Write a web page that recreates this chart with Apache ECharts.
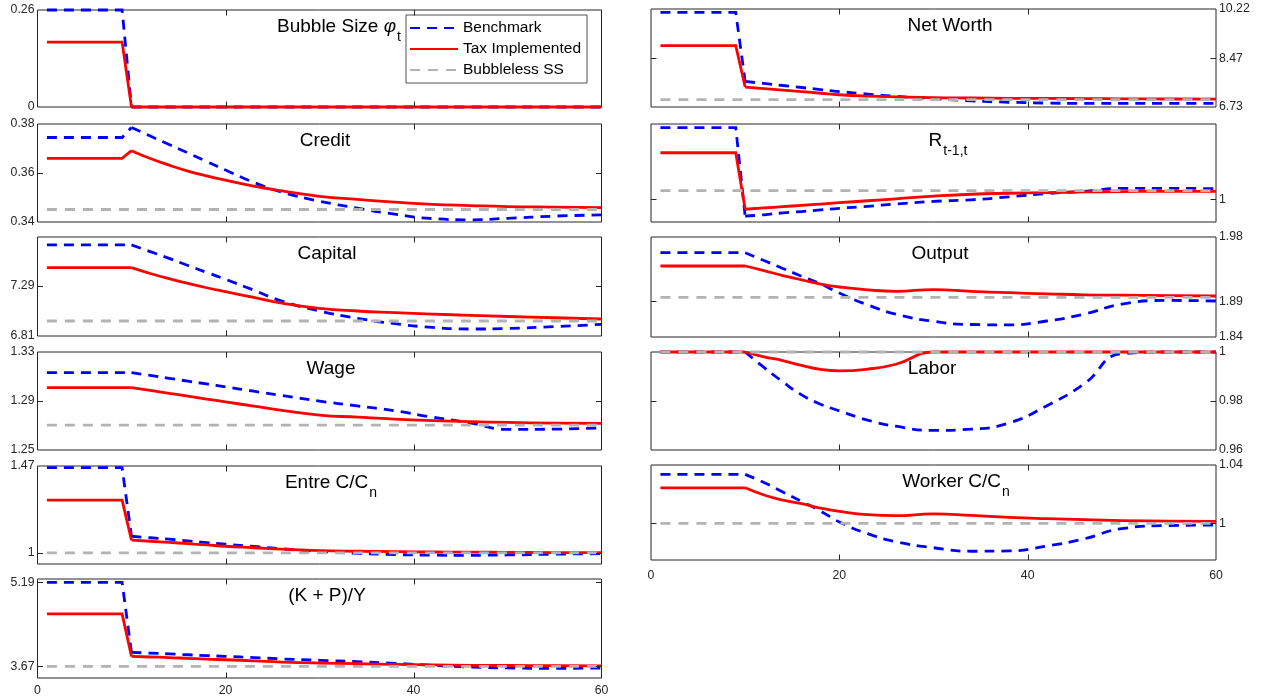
<!DOCTYPE html>
<html>
<head>
<meta charset="utf-8">
<script src="https://cdn.jsdelivr.net/npm/echarts@6/dist/echarts.min.js"></script>
<style>
  html, body { margin: 0; padding: 0; background: #fff; }
  #chart { width: 1261px; height: 698px; }
</style>
</head>
<body>
<div id="chart"></div>
<script>
// Simulation periods at which the impulse paths are recorded
const periods = [1, 9, 10, 12, 14, 16, 18, 20, 23, 26, 30, 34, 38, 42, 46, 50, 55, 60];
// Period at which the shock hits (paths are straight up to here, curved afterwards)
const shockPeriod = 10;

// Bubble size phi_t
const bubbleBench = [0.26, 0.26, 0, 0, 0, 0, 0, 0, 0, 0, 0, 0, 0, 0, 0, 0, 0, 0];
const bubbleTax   = [0.174, 0.174, 0, 0, 0, 0, 0, 0, 0, 0, 0, 0, 0, 0, 0, 0, 0, 0];

// Credit
const creditBench = [0.3745, 0.3745, 0.3786, 0.3751, 0.3716, 0.3682, 0.3647, 0.3612, 0.3562, 0.3522, 0.3485, 0.3457, 0.3432, 0.3414, 0.3409, 0.3415, 0.3424, 0.3429];
const creditTax   = [0.3660, 0.3660, 0.3691, 0.3659, 0.3632, 0.3608, 0.3588, 0.3571, 0.3546, 0.3527, 0.3505, 0.3492, 0.3481, 0.3472, 0.3467, 0.3463, 0.3461, 0.3459];

// Capital
const capitalBench = [7.684, 7.684, 7.684, 7.62, 7.555, 7.487, 7.42, 7.354, 7.25, 7.145, 7.05, 6.98, 6.928, 6.893, 6.877, 6.882, 6.9, 6.922];
const capitalTax   = [7.466, 7.466, 7.466, 7.41, 7.36, 7.315, 7.273, 7.235, 7.18, 7.125, 7.076, 7.05, 7.034, 7.02, 7.008, 6.997, 6.985, 6.973];

// Wage
const wageBench = [1.3132, 1.3132, 1.3132, 1.3109, 1.3085, 1.3062, 1.3039, 1.3015, 1.298, 1.2945, 1.2899, 1.286, 1.282, 1.2768, 1.2722, 1.2668, 1.267, 1.2681];
const wageTax   = [1.301, 1.301, 1.301, 1.2986, 1.2963, 1.294, 1.2916, 1.2893, 1.2858, 1.2823, 1.2785, 1.2768, 1.2752, 1.274, 1.2731, 1.2725, 1.272, 1.2717];

// Entrepreneur consumption relative to no-bubble level
const entreBench = [1.461, 1.461, 1.09, 1.082, 1.074, 1.065, 1.056, 1.047, 1.035, 1.022, 1.008, 0.998, 0.991, 0.988, 0.987, 0.989, 0.993, 0.996];
const entreTax   = [1.285, 1.285, 1.0686, 1.063, 1.057, 1.05, 1.043, 1.036, 1.028, 1.02, 1.012, 1.009, 1.007, 1.005, 1.004, 1.003, 1.002, 1.002];

// (K + P)/Y
const kpyBench = [5.19, 5.19, 3.923, 3.91, 3.895, 3.88, 3.865, 3.851, 3.83, 3.805, 3.78, 3.755, 3.725, 3.69, 3.66, 3.642, 3.635, 3.64];
const kpyTax   = [4.618, 4.618, 3.851, 3.84, 3.83, 3.815, 3.80, 3.79, 3.77, 3.748, 3.73, 3.72, 3.705, 3.698, 3.69, 3.686, 3.683, 3.68];

// Net worth
const netBench = [10.10, 10.10, 7.64, 7.568, 7.496, 7.424, 7.352, 7.28, 7.19, 7.11, 7.03, 6.95, 6.90, 6.87, 6.86, 6.86, 6.86, 6.86];
const netTax   = [8.917, 8.917, 7.44, 7.385, 7.33, 7.276, 7.22, 7.167, 7.12, 7.09, 7.06, 7.05, 7.04, 7.035, 7.03, 7.02, 7.015, 7.01];

// Gross return R_{t-1,t}
const rBench = [1.0219, 1.0219, 0.9948, 0.9952, 0.9958, 0.9962, 0.9967, 0.9972, 0.9978, 0.9985, 0.9993, 0.9998, 1.0007, 1.0017, 1.0024, 1.0033, 1.0033, 1.0032];
const rTax   = [1.0142, 1.0142, 0.9969, 0.9973, 0.9977, 0.9981, 0.9985, 0.9989, 0.9995, 1.0001, 1.0009, 1.0015, 1.0018, 1.002, 1.0022, 1.0023, 1.0024, 1.0024];

// Output
const outputBench = [1.958, 1.958, 1.958, 1.947, 1.936, 1.925, 1.9145, 1.9015, 1.885, 1.872, 1.862, 1.8575, 1.857, 1.8624, 1.872, 1.886, 1.8912, 1.8904];
const outputTax   = [1.9394, 1.9394, 1.9394, 1.933, 1.926, 1.92, 1.914, 1.91, 1.906, 1.904, 1.9064, 1.904, 1.902, 1.9005, 1.899, 1.8985, 1.898, 1.8974];

// Labor
const laborBench = [1, 1, 1, 0.9937, 0.9878, 0.9825, 0.9787, 0.976, 0.9722, 0.9697, 0.968, 0.9685, 0.971, 0.978, 0.987, 0.9993, 1, 1];
const laborTax   = [1, 1, 1, 0.998, 0.9965, 0.9945, 0.9929, 0.9923, 0.993, 0.995, 1, 1, 1, 1, 1, 1, 1, 1];

// Worker consumption relative to no-bubble level
const workerBench = [1.0336, 1.0336, 1.0336, 1.028, 1.0215, 1.015, 1.0085, 1.001, 0.993, 0.9875, 0.9834, 0.981, 0.9812, 0.9845, 0.9895, 0.9965, 0.9986, 0.9989];
const workerTax   = [1.0244, 1.0244, 1.0244, 1.0195, 1.016, 1.0135, 1.0105, 1.0083, 1.006, 1.0053, 1.0065, 1.0055, 1.0042, 1.0033, 1.0026, 1.002, 1.0016, 1.0014];

// Bubbleless steady-state levels (null: not drawn)
const bubblelessSS = {
  bubble: null, credit: 0.3451, capital: 6.954, wage: 1.2703, entre: 1, kpy: 3.67,
  net: 6.99, r: 1.0026, output: 1.8955, labor: 1, worker: 1
};

// Vertical axis limits and tick values
const yLimits = {
  bubble: [0, 0.26], credit: [0.34, 0.38], capital: [6.81, 7.76], wage: [1.25, 1.33],
  entre: [0.94, 1.47], kpy: [3.46, 5.25], net: [6.73, 10.22], r: [0.993, 1.023],
  output: [1.84, 1.98], labor: [0.96, 1], worker: [0.975, 1.04]
};
const yTicks = {
  bubble: [0, 0.26], credit: [0.34, 0.36, 0.38], capital: [6.81, 7.29], wage: [1.25, 1.29, 1.33],
  entre: [1, 1.47], kpy: [3.67, 5.19], net: [6.73, 8.47, 10.22], r: [1],
  output: [1.84, 1.89, 1.98], labor: [0.96, 0.98, 1], worker: [1, 1.04]
};
const xTicks = [0, 20, 40, 60];

const seriesNames = ['Benchmark', 'Tax Implemented', 'Bubbleless SS'];

// Panel titles (rich text: m = main, g = greek, s = subscript)
const panelTitles = {
  bubble: '{m|Bubble Size }{g|φ}{s|t}', credit: '{m|Credit}', capital: '{m|Capital}',
  wage: '{m|Wage}', entre: '{m|Entre C/C}{s|n}', kpy: '{m|(K + P)/Y}',
  net: '{m|Net Worth}', r: '{m|R}{s|t-1,t}', output: '{m|Output}',
  labor: '{m|Labor}', worker: '{m|Worker C/C}{s|n}'
};

const seriesData = {
  bubble: [bubbleBench, bubbleTax], credit: [creditBench, creditTax], capital: [capitalBench, capitalTax],
  wage: [wageBench, wageTax], entre: [entreBench, entreTax], kpy: [kpyBench, kpyTax],
  net: [netBench, netTax], r: [rBench, rTax], output: [outputBench, outputTax],
  labor: [laborBench, laborTax], worker: [workerBench, workerTax]
};

// ---- layout (pixels) ----
const FONT = '"Liberation Sans", Arial, Helvetica, sans-serif';
const AX = '#262626';
const TICK_LEN = 5.5;
const columns = [{ x: 37.5, w: 564 }, { x: 651, w: 565 }];
const panelLayout = [
  { key: 'bubble',  col: 0, top: 10,  bottom: 107, tx: 339 },
  { key: 'credit',  col: 0, top: 124, bottom: 222, tx: 325 },
  { key: 'capital', col: 0, top: 237, bottom: 336, tx: 327 },
  { key: 'wage',    col: 0, top: 352, bottom: 450, tx: 331 },
  { key: 'entre',   col: 0, top: 466, bottom: 564, tx: 331 },
  { key: 'kpy',     col: 0, top: 579, bottom: 678, tx: 327, xLabels: true, xMargin: 7 },
  { key: 'net',     col: 1, top: 9,   bottom: 107, tx: 950 },
  { key: 'r',       col: 1, top: 124, bottom: 222, tx: 948 },
  { key: 'output',  col: 1, top: 237, bottom: 337, tx: 940 },
  { key: 'labor',   col: 1, top: 352, bottom: 450, tx: 932 },
  { key: 'worker',  col: 1, top: 465, bottom: 560, tx: 956, xLabels: true, xMargin: 10 }
];

const lineStyles = [
  { color: '#0000ff', width: 2.8, type: [10, 7] },
  { color: '#ff0000', width: 2.8, type: 'solid' },
  { color: '#b3b3b3', width: 2.8, type: [10, 8] }
];

const fmt = v => String(parseFloat(Number(v).toFixed(2)));

const grid = [], xAxis = [], yAxis = [], series = [], titles = [];
const shockIdx = periods.indexOf(shockPeriod);

const lineSeries = (s, i, data, smooth, z) => ({
  name: seriesNames[s], type: 'line',
  xAxisIndex: i, yAxisIndex: i,
  data, symbol: 'none', clip: false, z, smooth,
  lineStyle: Object.assign({ cap: 'butt', join: 'miter' }, lineStyles[s]),
  itemStyle: { color: lineStyles[s].color },
  emphasis: { disabled: true }, silent: true
});

panelLayout.forEach((p, i) => {
  const c = columns[p.col];
  grid.push({
    left: c.x, top: p.top, width: c.w, height: p.bottom - p.top,
    show: true, borderColor: AX, borderWidth: 1, backgroundColor: 'transparent'
  });
  xAxis.push({
    gridIndex: i, type: 'value', position: 'bottom',
    min: xTicks[0], max: xTicks[xTicks.length - 1],
    axisLine: { show: false }, splitLine: { show: false }, axisTick: { show: false },
    axisLabel: {
      show: !!p.xLabels, customValues: xTicks, margin: p.xMargin || 6,
      fontSize: 12.3, fontFamily: FONT, color: AX
    }
  });
  const lim = yLimits[p.key];
  yAxis.push({
    gridIndex: i, type: 'value', position: p.col === 0 ? 'left' : 'right',
    min: lim[0], max: lim[1],
    axisLine: { show: false }, splitLine: { show: false }, axisTick: { show: false },
    axisLabel: {
      customValues: yTicks[p.key], formatter: fmt, margin: 3,
      fontSize: 12.3, fontFamily: FONT, color: AX
    }
  });

  // benchmark and tax paths: straight pre-shock part, smoothed adjustment afterwards
  seriesData[p.key].forEach((values, s) => {
    const pts = periods.map((t, j) => [t, values[j]]);
    series.push(lineSeries(s, i, pts.slice(0, shockIdx + 1), false, 2 + s));
    series.push(lineSeries(s, i, pts.slice(shockIdx), 0.5, 2 + s));
  });
  const ss = bubblelessSS[p.key];
  if (ss !== null) {
    series.push(lineSeries(2, i, [[periods[0], ss], [periods[periods.length - 1], ss]], false, 4));
  }

  titles.push({
    type: 'text', x: p.tx, y: p.top + 7, z: 100,
    style: {
      text: panelTitles[p.key], align: 'center', verticalAlign: 'top', fill: '#000',
      rich: {
        m: { fontSize: 19, fontFamily: FONT, lineHeight: 22, verticalAlign: 'top', fill: '#000' },
        g: { fontSize: 19, fontFamily: FONT, fontStyle: 'italic', lineHeight: 22, verticalAlign: 'top', fill: '#000' },
        s: { fontSize: 14, fontFamily: FONT, lineHeight: 16, padding: [13, 0, 0, 1], verticalAlign: 'top', fill: '#000' }
      }
    }
  });
});

const chart = echarts.init(document.getElementById('chart'), null, { renderer: 'canvas' });
chart.setOption({
  backgroundColor: '#fff',
  animation: false,
  grid, xAxis, yAxis, series,
  graphic: { elements: titles },
  legend: {
    data: seriesNames, orient: 'vertical', left: 406, top: 15,
    padding: [4, 6, 4, 3], itemGap: 3, itemWidth: 48, itemHeight: 16,
    backgroundColor: '#fff', borderColor: AX, borderWidth: 0.8, borderRadius: 0,
    selectedMode: false,
    itemStyle: { opacity: 0 },
    textStyle: { fontSize: 15.5, fontFamily: FONT, color: '#000', lineHeight: 18 }
  }
});

// Box-style tick marks pointing into every panel on all four sides,
// placed through each panel's own axis scales (ticks on the frame edge are skipped).
const crisp = v => Math.round(v) + 0.5;
const tickLine = (x1, y1, x2, y2) => ({
  type: 'line', z: 50, silent: true,
  shape: { x1, y1, x2, y2 },
  style: { stroke: AX, lineWidth: 1 }
});
const ticks = [];
panelLayout.forEach((p, i) => {
  const c = columns[p.col];
  const xl = c.x, xr = c.x + c.w;
  const lim = yLimits[p.key];
  yTicks[p.key].filter(v => v > lim[0] && v < lim[1]).forEach(v => {
    const py = crisp(chart.convertToPixel({ yAxisIndex: i }, v));
    ticks.push(tickLine(xl, py, xl + TICK_LEN, py), tickLine(xr - TICK_LEN, py, xr, py));
  });
  xTicks.slice(1, -1).forEach(v => {
    const px = crisp(chart.convertToPixel({ xAxisIndex: i }, v));
    ticks.push(tickLine(px, p.top, px, p.top + TICK_LEN), tickLine(px, p.bottom - TICK_LEN, px, p.bottom));
  });
});
chart.setOption({ graphic: { elements: titles.concat(ticks) } });
</script>
</body>
</html>
